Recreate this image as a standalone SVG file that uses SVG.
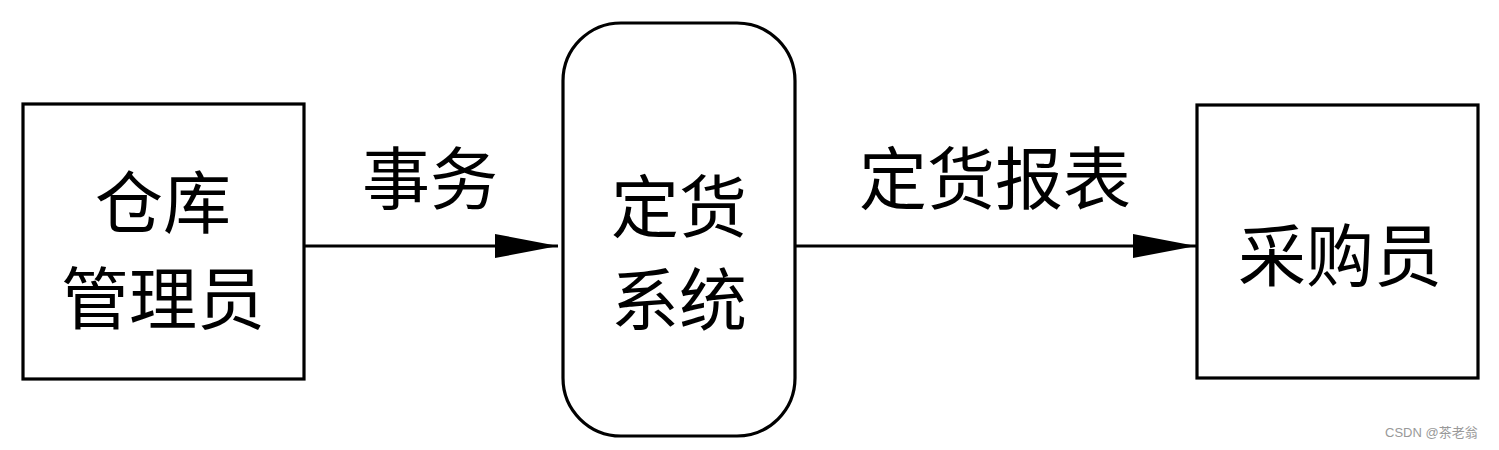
<svg xmlns="http://www.w3.org/2000/svg" width="1499" height="450" viewBox="0 0 1499 450">
<style>
.box{fill:#fff;stroke:#000;stroke-width:3.2}
.lbl{font-family:"Noto Sans CJK SC","Liberation Serif",sans-serif;font-size:68px;fill:#000;text-anchor:middle}
.edge{stroke:#000;stroke-width:3.2;fill:none}
.wm{font-family:"Liberation Sans","Noto Sans CJK SC",sans-serif;font-size:13px;fill:#999}
</style>
<defs>
<marker id="arr" markerUnits="userSpaceOnUse" markerWidth="64" markerHeight="24" refX="63" refY="12" orient="auto">
<polygon points="0,0 63,12 0,24" fill="#000"/>
</marker>
</defs>
<rect width="1499" height="450" fill="#fff"/>
<g id="connectors">
<line class="edge" x1="304" y1="246" x2="558" y2="246" marker-end="url(#arr)"/>
<line class="edge" x1="795" y1="246" x2="1196" y2="246" marker-end="url(#arr)"/>
<text class="lbl" x="430" y="204">事务</text>
<text class="lbl" x="995" y="204">定货报表</text>
</g>
<g id="node-warehouse">
<rect class="box" x="23" y="104" width="281" height="275"/>
<text class="lbl" x="163" y="228">仓库</text>
<text class="lbl" x="163" y="324">管理员</text>
</g>
<g id="node-order">
<rect class="box" x="563" y="23" width="232" height="413" rx="58" ry="58"/>
<text class="lbl" x="679" y="232">定货</text>
<text class="lbl" x="679" y="325">系统</text>
</g>
<g id="node-buyer">
<rect class="box" x="1197" y="105" width="281" height="273"/>
<text class="lbl" x="1340" y="281">采购员</text>
</g>
<text class="wm" x="1385" y="437">CSDN @茶老翁</text>
</svg>
